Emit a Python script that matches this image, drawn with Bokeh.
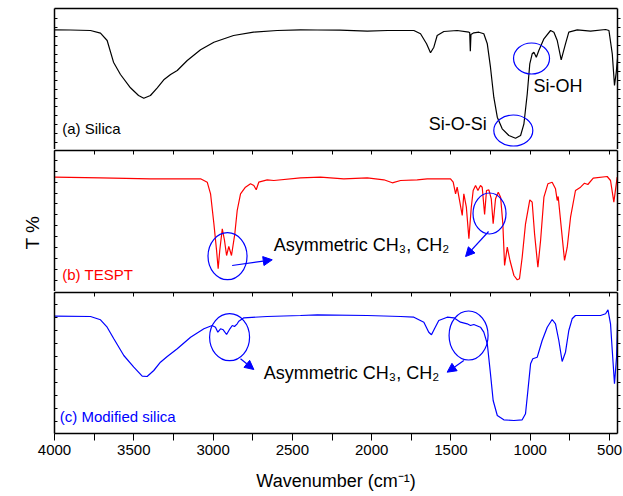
import numpy as np
from bokeh.plotting import figure
from bokeh.layouts import column
from bokeh.models import Range1d, LinearAxis, FixedTicker, Label, Arrow, NormalHead, Title
from bokeh.embed import file_html
from bokeh.resources import INLINE

# ---- FTIR spectra: wavenumber (cm^-1) and transmittance (arbitrary units per trace)
silica_wn = [3998, 3900, 3773, 3710, 3668, 3628, 3584, 3521, 3470, 3437, 3395, 3352,
             3311, 3268, 3226, 3163, 3079, 2995, 2871, 2745, 2596, 2449, 2343, 2200,
             2028, 1900, 1734, 1692, 1654, 1629, 1608, 1587, 1545, 1461, 1387, 1382,
             1378, 1374, 1356, 1324, 1293, 1271, 1251, 1230, 1208, 1177, 1135, 1093,
             1061, 1040, 1019, 1003, 988, 977, 962, 946, 914, 872, 851, 830, 805, 778,
             757, 704, 620, 525, 504, 483, 469, 458, 450]
silica_t = [120.7, 120.5, 120, 117.3, 110, 88.3, 76, 62.7, 55, 52.3, 55, 62.7,
            70.7, 76, 80, 90, 100.7, 108.3, 115, 118.3, 120, 120.7, 120.5, 120.3,
            119.3, 120, 120, 116.7, 106.7, 97.7, 103.3, 115, 119, 120, 118.3, 118,
            99.3, 116, 117.7, 118.3, 116.7, 106.7, 83.3, 53.3, 33.3, 21.7, 15, 12.3,
            15, 26.7, 56.7, 86.7, 96.7, 98.3, 93.3, 100, 111.7, 120, 118.3, 110, 90.7, 106.7,
            118.3, 120.7, 119.3, 121, 120, 96.7, 65, 78, 92]

tespt_wn = [3998, 3710, 3395, 3079, 3037, 3016, 2995, 2978, 2968, 2958, 2942, 2928,
            2915, 2901, 2884, 2863, 2848, 2827, 2796, 2764, 2743, 2728, 2712, 2659,
            2617, 2449, 2323, 2176, 2028, 1923, 1870, 1818, 1713, 1650, 1503, 1486,
            1471, 1461, 1444, 1429, 1419, 1403, 1387, 1372, 1360, 1345, 1330, 1314,
            1303, 1288, 1276, 1261, 1246, 1234, 1219, 1202, 1187, 1173, 1162, 1145,
            1128, 1103, 1082, 1068, 1051, 1030, 1003, 988, 973, 952, 935, 914, 889,
            862, 841, 830, 824, 809, 784, 767, 746, 715, 683, 658, 637, 603, 515, 494,
            473, 452]
tespt_t = [115.3, 114.7, 113.7, 113.7, 110.3, 98.7, 68.7, 42, 23.7, 42, 63.7, 52,
           37, 46, 37, 58.7, 82, 98.7, 105.3, 108.7, 107, 102.7, 110.3, 112.7,
           112, 114.7, 115.3, 113.7, 114.7, 112.7, 109.7, 112, 112.7, 113.7, 113.7, 110.3,
           98.7, 105.3, 90.3, 77, 98.7, 85.3, 53.7, 85.3, 102, 107, 102, 107,
           105.3, 78, 102, 102.7, 93.7, 68.7, 93.7, 100.3, 95.3, 68.7, 27, 45.3,
           32, 17, 12.7, 13.7, 35.3, 68.7, 92.7, 90.3, 58.7, 25.3, 52, 95.3, 108.7,
           110.3, 103.7, 92, 96, 72, 32, 45.3, 75.3, 102, 105.3, 109.3, 108, 114.3, 116, 112,
           90.3, 115.3]

modified_wn = [3998, 3773, 3710, 3668, 3626, 3563, 3500, 3447, 3416, 3374, 3332, 3289,
               3226, 3142, 3058, 3006, 2985, 2970, 2953, 2936, 2915, 2894, 2879, 2865,
               2848, 2838, 2806, 2659, 2449, 2343, 2028, 1818, 1734, 1671, 1640, 1623,
               1604, 1577, 1524, 1482, 1440, 1398, 1377, 1356, 1314, 1293, 1271, 1251,
               1234, 1208, 1167, 1103, 1051, 1030, 1015, 998, 984, 956, 925, 893, 862,
               841, 820, 799, 778, 757, 736, 715, 557, 525, 510, 494, 483, 469, 456, 450]
modified_t = [117.3, 117, 113.7, 106.3, 94.7, 78, 66.3, 57.3, 57, 63, 71.3, 77,
              84.7, 96.3, 104.7, 108, 106.3, 101.3, 104.7, 103.7, 99, 104.7, 108, 107,
              109.7, 112.3, 115.7, 117, 118, 118.7, 118, 117, 116.3, 111.3, 101.3, 98.7,
              104.7, 113, 116.3, 115.7, 111.3, 109.7, 108, 109, 106.3, 101.3, 89.7, 59.7,
              33, 18, 13.7, 13, 13.7, 19.7, 43, 69.7, 74.7, 76.3, 93, 106.3, 114,
              109.7, 93, 72, 81.3, 103, 114.7, 118, 118, 119.7, 123.7, 109.7, 83, 49.7, 76.3, 110]

x_ticks = [4000, 3500, 3000, 2500, 2000, 1500, 1000, 500]
x_minor_ticks = [3750, 3250, 2750, 2250, 1750, 1250, 750]

FONT = "Liberation Sans"
BLUE = "#0000ff"
RED = "#ff0000"

x_range = Range1d(4000, 450)


def tick_only_axis(ticks, tick_in, tick_out):
    # axis line with unlabeled tick marks (drawn as minor ticks, so no labels exist)
    return LinearAxis(ticker=FixedTicker(ticks=[], minor_ticks=ticks),
                      major_tick_in=0, major_tick_out=0,
                      minor_tick_in=tick_in, minor_tick_out=tick_out,
                      major_label_standoff=0, axis_line_width=1.5)


def make_panel(height, y_range, border_top, border_bottom, y_ticks):
    p = figure(width=623, height=height, x_range=x_range, y_range=y_range,
               output_backend="svg", toolbar_location=None,
               x_axis_location=None, y_axis_location=None,
               min_border_left=54, min_border_right=6,
               min_border_top=border_top, min_border_bottom=border_bottom)
    p.outline_line_color = None
    p.xgrid.visible = False
    p.ygrid.visible = False
    p.add_layout(tick_only_axis(y_ticks, 3, 0), "left")
    p.add_layout(tick_only_axis(y_ticks, 0, 3), "right")
    return p


# tick spacing of each panel's left/right T axis
ticks_a = list(np.round(8.3 + 8.81 * np.arange(15), 2))
ticks_b = list(np.round(12.3 + 10.9 * np.arange(12), 2))
ticks_c = list(np.round(12.3 + 12.93 * np.arange(10), 2))

pa = make_panel(149, Range1d(1, 142), 8, 0, ticks_a)
pb = make_panel(142, Range1d(1, 142), 1, 0, ticks_b)
pc = make_panel(205, Range1d(0, 141), 1, 63, ticks_c)
pa.add_layout(tick_only_axis([], 0, 0), "above")
pb.add_layout(tick_only_axis(x_ticks + x_minor_ticks, 4, 0), "above")
pc.add_layout(tick_only_axis(x_ticks + x_minor_ticks, 4, 0), "above")

# blank spacer between the middle frame and its vertical title
spacer = tick_only_axis([], 0, 14)
spacer.axis_line_color = None
spacer.minor_tick_line_color = None
spacer.major_tick_line_color = None
pb.add_layout(spacer, "left")

# shared vertical axis title on the middle panel
pb.add_layout(Title(text="T %", align="left", offset=42, standoff=24,
                    text_font=FONT, text_font_size="19px", text_font_style="normal",
                    text_color="black"), "left")

# bottom wavenumber axis
xax = LinearAxis(ticker=FixedTicker(ticks=x_ticks, minor_ticks=x_minor_ticks),
                 major_tick_in=0, major_tick_out=7, minor_tick_in=0, minor_tick_out=7,
                 axis_line_width=1.5, major_label_standoff=4,
                 axis_label="Wavenumber (cm\u207b\u00b9)", axis_label_standoff=13)
xax.major_label_text_font = FONT
xax.major_label_text_font_size = "15px"
xax.major_label_text_color = "black"
xax.axis_label_text_font = FONT
xax.axis_label_text_font_size = "18px"
xax.axis_label_text_font_style = "normal"
xax.axis_label_text_color = "black"
pc.add_layout(xax, "below")

# spectra
pa.line(silica_wn, silica_t, line_color="black", line_width=1.2)
pb.line(tespt_wn, tespt_t, line_color=RED, line_width=1.2)
pc.line(modified_wn, modified_t, line_color=BLUE, line_width=1.2)


def label(p, x, y, text, color="black", size="18px"):
    p.add_layout(Label(x=x, y=y, text=text, text_font=FONT, text_font_size=size,
                       text_color=color, text_align="left", text_baseline="middle"))


label(pa, 3951, 22, "(a) Silica", size="15px")
label(pb, 3951, 18, "(b) TESPT", color=RED, size="15px")
label(pc, 3967, 17.5, "(c) Modified silica", color=BLUE, size="15px")

label(pa, 1640, 26.5, "Si-O-Si")
label(pa, 979, 65, "Si-OH")
label(pb, 2617, 47.3, "Asymmetric CH\u2083, CH\u2082")
label(pc, 2680, 60.5, "Asymmetric CH\u2083, CH\u2082")

# highlighted band regions
for p, cx, cy, w, h in [(pa, 1107, 20, 246, 31), (pa, 992, 92, 227, 31),
                        (pb, 2909, 36.3, 246, 47), (pb, 1257, 79, 208, 41),
                        (pc, 2896, 96.3, 252, 47), (pc, 1389, 98, 246, 49)]:
    p.ellipse(x=[cx], y=[cy], width=[w], height=[h], fill_color=None,
              line_color=BLUE, line_width=1.2)

for p, xs, ys, xe, ye in [(pb, 2880, 27, 2627, 32.7), (pb, 1263, 61, 1408, 36),
                          (pc, 2827, 74.7, 2743, 64), (pc, 1419, 73, 1524, 61.3)]:
    p.add_layout(Arrow(end=NormalHead(size=9, fill_color=BLUE, line_color=BLUE),
                       x_start=xs, y_start=ys, x_end=xe, y_end=ye,
                       line_color=BLUE, line_width=1.2))

layout = column(pa, pb, pc)
open("out.html", "w").write(file_html(layout, INLINE))
